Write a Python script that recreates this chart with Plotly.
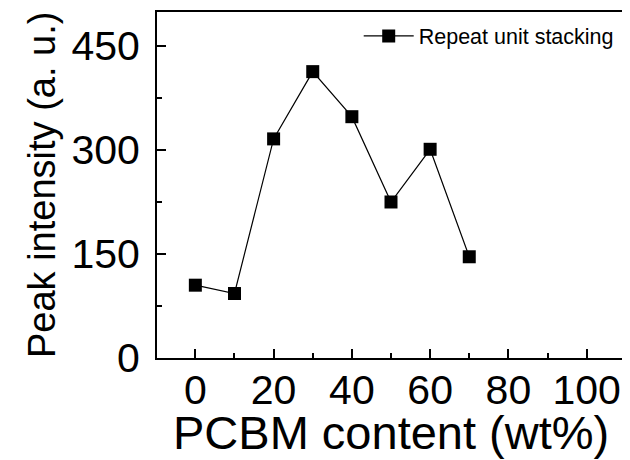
import plotly.graph_objects as go

pcbm_wt = [0, 10, 20, 30, 40, 50, 60, 70]
peak_intensity = [105, 93, 316, 413, 348, 225, 301, 146]
x_ticks = [0, 20, 40, 60, 80, 100]
y_ticks = [0, 150, 300, 450]

font = "Liberation Sans, Arial, sans-serif"

fig = go.Figure()
fig.add_trace(go.Scatter(
    x=pcbm_wt, y=peak_intensity, mode="lines+markers",
    name="Repeat unit stacking",
    line=dict(color="black", width=1.2),
    marker=dict(symbol="square", size=13, color="black"),
))

axis_common = dict(
    ticks="inside", ticklen=9, tickwidth=1.5, tickcolor="black",
    showline=True, linecolor="black", linewidth=2, mirror=True,
    showgrid=False, zeroline=False, automargin=False,
    tickfont=dict(size=41, family=font, color="black"),
)

# page body has an 8px margin, so the figure is sized/offset to compensate
fig.update_layout(
    width=622, height=452,
    margin=dict(l=149, r=5, t=4, b=102),
    plot_bgcolor="white", paper_bgcolor="white",
    font=dict(family=font, color="black"),
    showlegend=True,
    legend=dict(x=0.431, y=0.99, xanchor="left", yanchor="top",
                font=dict(size=21.5, family=font), bgcolor="rgba(0,0,0,0)",
                itemwidth=50, borderwidth=0),
    xaxis=dict(range=[-9.8, 109.8], tickvals=x_ticks, ticklabelstandoff=-5,
               minor=dict(dtick=10, tick0=0, ticks="inside", ticklen=5,
                          tickcolor="black", tickwidth=1.5),
               **axis_common),
    yaxis=dict(range=[0, 499], tickvals=y_ticks, ticklabelstandoff=7,
               minor=dict(dtick=75, tick0=0, ticks="inside", ticklen=5,
                          tickcolor="black", tickwidth=1.5),
               **axis_common),
    annotations=[
        dict(text="PCBM content (wt%)", xref="paper", yref="paper",
             x=0.5, y=0, xanchor="center", yanchor="middle", yshift=-74,
             showarrow=False, font=dict(size=47, family=font, color="black")),
        dict(text="Peak intensity (a. u.)", xref="paper", yref="paper",
             x=0, y=0.5, xanchor="center", yanchor="middle", xshift=-115,
             textangle=-90, showarrow=False,
             font=dict(size=38, family=font, color="black")),
    ],
)

fig.write_html("out.html")
